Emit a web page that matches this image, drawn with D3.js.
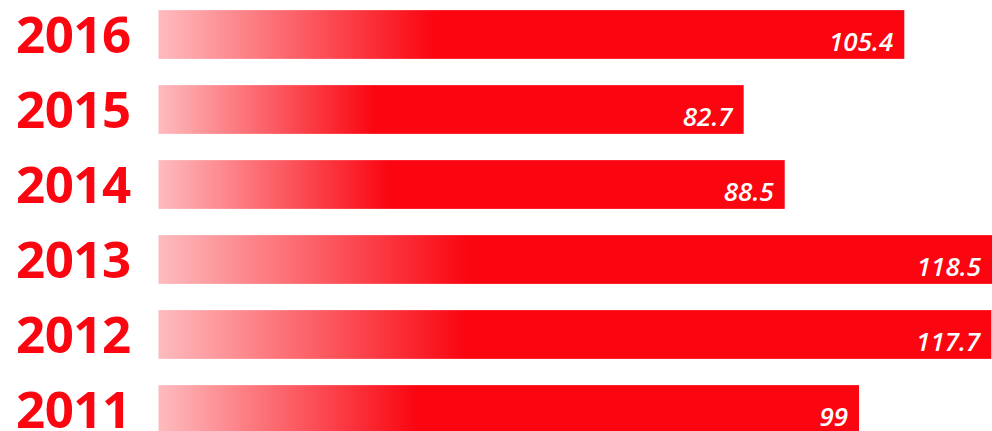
<!DOCTYPE html>
<html>
<head>
<meta charset="utf-8">
<script src="https://cdn.jsdelivr.net/npm/d3@7"></script>
<style>
  body { margin: 0; background: #fff; }
  svg { display: block; }
</style>
</head>
<body>
<div id="chart"></div>
<script>
const years = ["2016", "2015", "2014", "2013", "2012", "2011"];
const values = [105.4, 82.7, 88.5, 118.5, 117.7, 99];

const width = 992, height = 431;
const red = "#fa0510";

const data = years.map((y, i) => ({year: y, value: values[i]}));

const x = d3.scaleLinear()
    .domain([0, 118.5])
    .range([158.5, 997]);

const y = d3.scaleBand()
    .domain(years)
    .range([-3, 447])
    .paddingInner(0.35)
    .paddingOuter(0.175);

const svg = d3.create("svg")
    .attr("width", width)
    .attr("height", height)
    .attr("viewBox", [0, 0, width, height]);

// light pink on the left fading into full red
const grad = svg.append("defs")
  .append("linearGradient")
    .attr("id", "fade")
    .attr("x1", 0).attr("x2", 1)
    .attr("y1", 0).attr("y2", 0);
grad.append("stop").attr("offset", 0).attr("stop-color", red).attr("stop-opacity", 0.27);
grad.append("stop").attr("offset", 0.37).attr("stop-color", red).attr("stop-opacity", 1);
grad.append("stop").attr("offset", 1).attr("stop-color", red).attr("stop-opacity", 1);

svg.append("g")
    .attr("class", "bars")
  .selectAll("rect")
  .data(data)
  .join("rect")
    .attr("x", x(0))
    .attr("y", d => y(d.year))
    .attr("width", d => x(d.value) - x(0))
    .attr("height", y.bandwidth())
    .attr("fill", "url(#fade)");

svg.append("g")
    .attr("class", "years")
    .attr("fill", red)
    .style("font-family", "'Open Sans', sans-serif")
    .style("font-weight", 700)
    .style("font-size", "51px")
    .style("letter-spacing", "-0.5px")
  .selectAll("text")
  .data(data)
  .join("text")
    .attr("x", 16)
    .attr("y", d => y(d.year) + y.bandwidth() / 2)
    .attr("dy", "0.36em")
    .text(d => d.year);

svg.append("g")
    .attr("class", "values")
    .attr("fill", "#fff")
    .attr("text-anchor", "end")
    .style("font-family", "'Open Sans', sans-serif")
    .style("font-weight", 600)
    .style("font-style", "italic")
    .style("font-size", "26px")
  .selectAll("text")
  .data(data)
  .join("text")
    .attr("x", d => Math.min(x(d.value), width) - 11)
    .attr("y", d => y(d.year) + y.bandwidth() - 8)
    .text(d => d.value);

d3.select("#chart").append(() => svg.node());
</script>
</body>
</html>
